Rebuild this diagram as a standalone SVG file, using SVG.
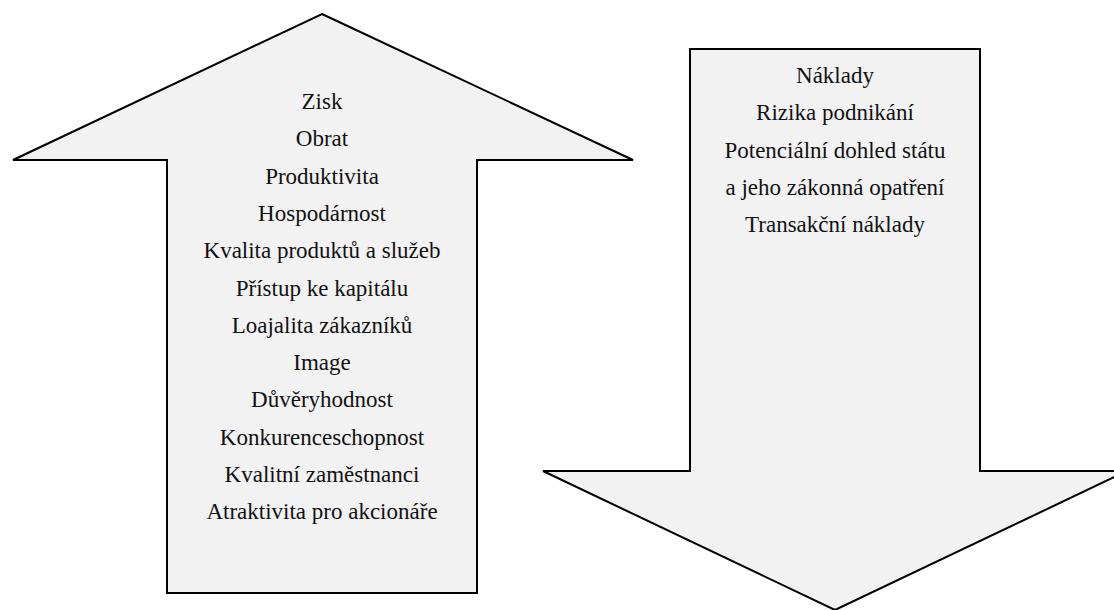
<svg xmlns="http://www.w3.org/2000/svg" width="1114" height="610" viewBox="0 0 1114 610">
<style>
.arrow{fill:#f2f2f2;stroke:#000;stroke-width:2;stroke-linejoin:miter}
.t{font-family:"Liberation Serif","Times New Roman",serif;font-size:23px;fill:#111;text-anchor:middle}
</style>
<rect width="1114" height="610" fill="#fff"/>
<g id="up-arrow">
<polygon class="arrow" points="322,14 633,160 477,160 477,593 167,593 167,160 13,160"/>
<text class="t" x="322" y="109">Zisk</text>
<text class="t" x="322" y="146.3">Obrat</text>
<text class="t" x="322" y="183.6">Produktivita</text>
<text class="t" x="322" y="220.9">Hospodárnost</text>
<text class="t" x="322" y="258.2">Kvalita produktů a služeb</text>
<text class="t" x="322" y="295.5">Přístup ke kapitálu</text>
<text class="t" x="322" y="332.8">Loajalita zákazníků</text>
<text class="t" x="322" y="370.1">Image</text>
<text class="t" x="322" y="407.4">Důvěryhodnost</text>
<text class="t" x="322" y="444.7">Konkurenceschopnost</text>
<text class="t" x="322" y="482">Kvalitní zaměstnanci</text>
<text class="t" x="322" y="519.3">Atraktivita pro akcionáře</text>
</g>
<g id="down-arrow">
<polygon class="arrow" points="690,49 980,49 980,471 1127,471 835,610 543,471 690,471"/>
<text class="t" x="835" y="83">Náklady</text>
<text class="t" x="835" y="120.3">Rizika podnikání</text>
<text class="t" x="835" y="157.6">Potenciální dohled státu</text>
<text class="t" x="835" y="194.9">a jeho zákonná opatření</text>
<text class="t" x="835" y="232.2">Transakční náklady</text>
</g>
<g id="connectors"></g>
</svg>
